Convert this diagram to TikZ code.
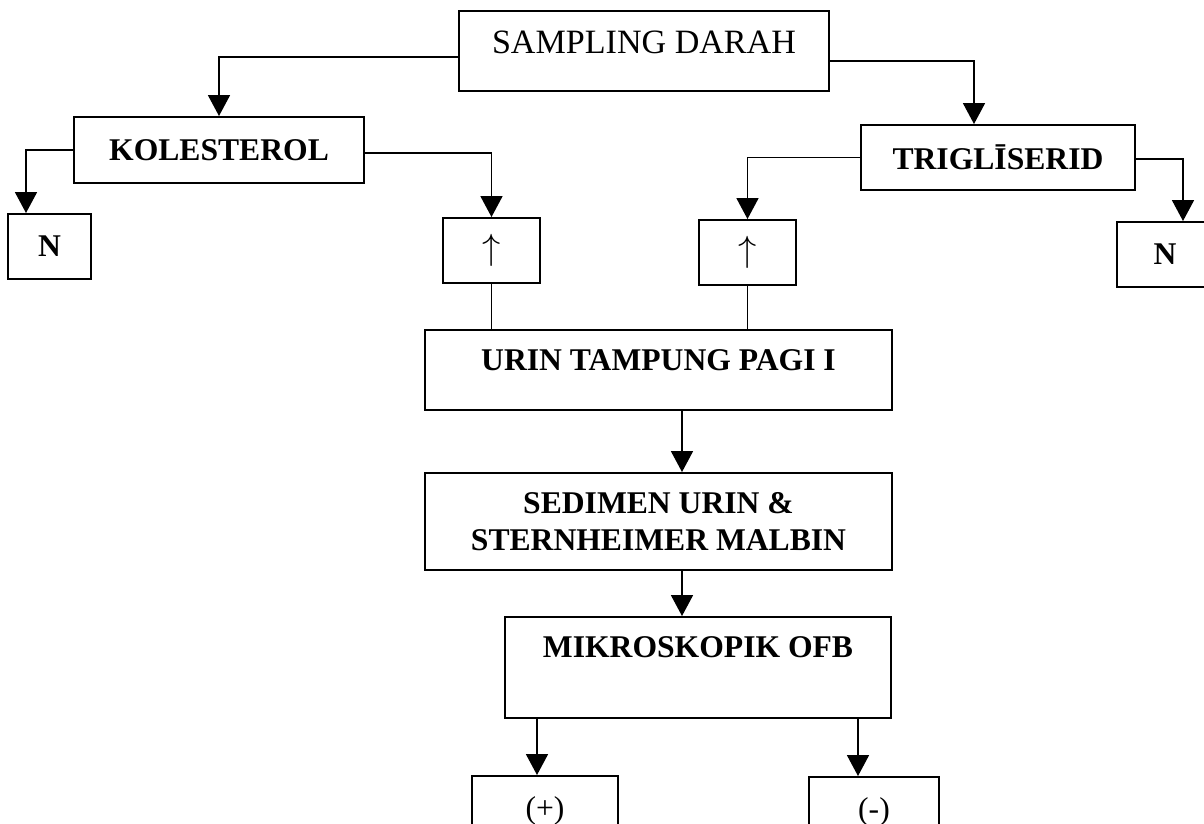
\documentclass[tikz,border=0pt]{standalone}
\usepackage{fontspec}
\setmainfont{Liberation Serif}
\usetikzlibrary{arrows.meta,calc}

\begin{document}
\begin{tikzpicture}[x=0.02cm, y=-0.02cm, >={Triangle[length=4.2mm,width=4.4mm]},
        kotak/.style={draw, line width=1.1pt, inner sep=0pt, align=center, font=\fontsize{18}{21}\selectfont\bfseries},
        panah/.style={->, line width=1pt}]
        \useasboundingbox (0,0) rectangle (1204,824);
        \clip (0,0) rectangle (1204,824);
        \node[kotak, minimum width=7.4cm, text height=0.85cm, text depth=0.75cm, font=\fontsize{19.4}{23}\selectfont] (sampling) at (644,51) {SAMPLING DARAH};
        \node[kotak, minimum width=5.8cm, minimum height=1.32cm] (kolesterol) at (219,150) {KOLESTEROL};
        \node[kotak, minimum width=5.48cm, minimum height=1.3cm] (trigliserid) at (998,157.5) {TRIGLĪSERID};
        \node[kotak, minimum width=1.66cm, minimum height=1.3cm] (nkiri) at (49.5,246.5) {N};
        \node[kotak, minimum width=1.94cm, minimum height=1.3cm, font=\fontsize{21}{24}\selectfont] (naikkiri) at (491.5,250.5) {$\uparrow$};
        \node[kotak, minimum width=1.94cm, minimum height=1.3cm, font=\fontsize{21}{24}\selectfont] (naikkanan) at (747.5,252.5) {$\uparrow$};
        \node[kotak, minimum width=1.92cm, minimum height=1.3cm] (nkanan) at (1165,254.5) {N};
        \node[kotak, minimum width=9.34cm, text height=0.8cm, text depth=0.8cm] (urin) at (658.5,370) {URIN TAMPUNG PAGI I};
        \node[kotak, minimum width=9.34cm, minimum height=1.94cm] (sedimen) at (658.5,521.5) {SEDIMEN URIN \&\\STERNHEIMER MALBIN};
        \node[kotak, minimum width=7.72cm, text height=0.8cm, text depth=1.22cm] (mikroskopik) at (698,667.5) {MIKROSKOPIK OFB};
        \node[kotak, minimum width=2.92cm, text height=0.84cm, text depth=0.5cm, font=\fontsize{18}{21}\selectfont] (positif) at (545,809.5) {(+)};
        \node[kotak, minimum width=2.6cm, text height=0.84cm, text depth=0.5cm, font=\fontsize{18}{21}\selectfont] (negatif) at (874,810.5) {(-)};
        % cabang dari sampling darah
        \draw[panah] ($(sampling.west)+(0,6)$) -| (kolesterol.north);
        \draw[panah] ($(sampling.east)+(0,10)$) -| ($(trigliserid.north)+(-24,0)$);
        \draw[panah] (kolesterol.west) -| ($(nkiri.north)+(-23.5,0)$);
        \draw[panah] ($(kolesterol.east)+(0,3)$) -| (naikkiri.north);
        \draw[panah] (trigliserid.west) -| (naikkanan.north);
        \draw[panah] ($(trigliserid.east)+(0,1.5)$) -| ($(nkanan.north)+(18,0)$);
        % ke urin
        \draw[line width=1pt] (naikkiri.south) -- (naikkiri.south |- urin.north);
        \draw[line width=1pt] (naikkanan.south) -- (naikkanan.south |- urin.north);
        \draw[panah] ($(urin.south)+(23.5,0)$) -- ($(sedimen.north)+(23.5,0)$);
        \draw[panah] ($(sedimen.south)+(23.5,0)$) -- ($(mikroskopik.north)+(-16,0)$);
        \draw[panah] ($(mikroskopik.south)+(-161,0)$) -- ($(positif.north)+(-8,0)$);
        \draw[panah] ($(mikroskopik.south)+(160,0)$) -- ($(negatif.north)+(-16,0)$);
    \end{tikzpicture}
\end{document}
